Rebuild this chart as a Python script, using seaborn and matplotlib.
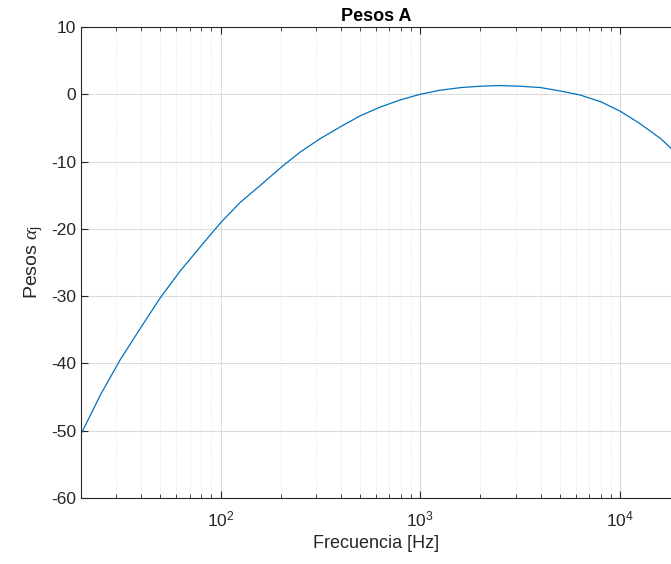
import numpy as np
import pandas as pd
import matplotlib
matplotlib.use("Agg")
import matplotlib.pyplot as plt
import seaborn as sns
from matplotlib.ticker import LogLocator, FixedLocator

# Third-octave frequencies (Hz) and A-weight values (dB)
freq = [20, 25, 31.5, 40, 50, 63, 80, 100, 125, 160, 200, 250, 315, 400, 500,
        630, 800, 1000, 1250, 1600, 2000, 2500, 3150, 4000, 5000, 6300, 8000,
        10000, 12500, 16000, 20000]
weight = [-50.5, -44.7, -39.4, -34.6, -30.2, -26.2, -22.5, -19.1, -16.1, -13.4,
          -10.9, -8.6, -6.6, -4.8, -3.2, -1.9, -0.8, 0.0, 0.6, 1.0, 1.2, 1.3,
          1.2, 1.0, 0.5, -0.1, -1.1, -2.5, -4.3, -6.6, -9.3]
yticks = [10, 0, -10, -20, -30, -40, -50, -60]

df = pd.DataFrame({"f": freq, "w": weight})

sns.set_style("white")
plt.rcParams['font.family'] = ['Liberation Sans', 'DejaVu Sans']
plt.rcParams['axes.unicode_minus'] = False
plt.rcParams['mathtext.fontset'] = 'custom'
plt.rcParams['mathtext.rm'] = 'Liberation Sans'
plt.rcParams['mathtext.it'] = 'Liberation Serif:italic'

fig = plt.figure(figsize=(6.71, 5.64), dpi=100)
ax = fig.add_axes([81/671, 66/564, 1 - 81/671, (498-27)/564])

sns.lineplot(data=df, x="f", y="w", ax=ax, color="#0072BD", linewidth=0.9)
ax.set_xscale("log")
ax.set_xlim(20, 18000)
ax.set_ylim(-60, 10)
ax.set_yticks(yticks)

ax.xaxis.set_major_locator(FixedLocator([100, 1000, 10000]))
ax.xaxis.set_minor_locator(LogLocator(base=10, subs=np.arange(2, 10)))
ax.xaxis.set_minor_formatter(matplotlib.ticker.NullFormatter())

ax.grid(True, which="major", color="#dcdcdc", linewidth=0.8, linestyle="-")
ax.grid(True, which="minor", axis="x", color="#d8d8d8", linewidth=0.6, linestyle=(0, (1, 2)))

for s in ["left", "top", "bottom"]:
    ax.spines[s].set_color("#262626")
    ax.spines[s].set_linewidth(0.8)
ax.spines["right"].set_visible(False)

ax.tick_params(axis="both", which="both", direction="in", colors="#262626",
               labelsize=12.5, top=True, bottom=True, left=True, right=False)
ax.tick_params(which="major", length=5)
ax.tick_params(which="minor", length=3)
ax.tick_params(axis="x", pad=8)

ax.set_xlabel("Frecuencia [Hz]", fontsize=13, color="#262626")
ax.set_ylabel(r"Pesos $\mathit{\alpha}_{\mathrm{j}}$", fontsize=14, color="#262626")
ax.set_title("Pesos A", fontsize=13, fontweight="bold", color="black", pad=4)

fig.savefig("out.png", dpi=100)
